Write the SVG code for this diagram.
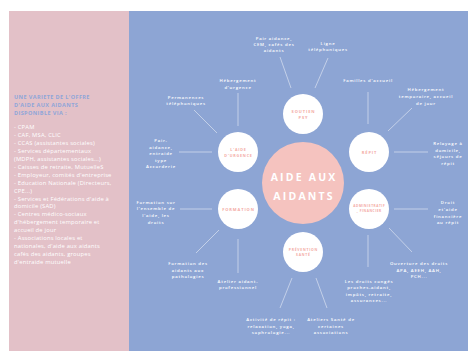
<svg xmlns="http://www.w3.org/2000/svg" width="468" height="351" viewBox="0 0 468 351">
<style>
.lab{font-family:"Open Sans","Liberation Sans",sans-serif;font-size:4.3px;font-weight:600;fill:#ffffff;letter-spacing:0.75px;text-anchor:middle}
.sat{font-family:"Open Sans","Liberation Sans",sans-serif;font-size:4px;font-weight:700;fill:#f3aaa4;letter-spacing:0.9px;text-anchor:middle}
.ttl{font-family:"Open Sans","Liberation Sans",sans-serif;font-size:5.5px;font-weight:700;fill:#8fa6d8;letter-spacing:0.4px}
.lst{font-family:"Open Sans","Liberation Sans",sans-serif;font-size:5.8px;fill:#ffffff;letter-spacing:0.2px}
.ctr{font-family:"Open Sans","Liberation Sans",sans-serif;font-size:10.5px;font-weight:700;fill:#ffffff;letter-spacing:2.2px;text-anchor:middle}
.conn line{stroke:#ffffff;stroke-width:0.6;opacity:0.8}
.node{fill:#ffffff}
</style>
<rect x="0" y="0" width="468" height="351" fill="#ffffff"/>
<rect x="9" y="11" width="120" height="340" fill="#e3c1c8"/>
<rect x="129" y="11" width="339" height="340" fill="#8da5d4"/>

<g id="panel-text">
<text class="ttl" x="14" y="99">UNE VARIETE DE L'OFFRE</text>
<text class="ttl" x="14" y="107">D'AIDE AUX AIDANTS</text>
<text class="ttl" x="14" y="115">DISPONIBLE VIA :</text>
<text class="lst" x="14" y="129">- CPAM</text>
<text class="lst" x="14" y="137">- CAF, MSA, CLIC</text>
<text class="lst" x="14" y="145">- CCAS (assistantes sociales)</text>
<text class="lst" x="14" y="153">- Services départementaux</text>
<text class="lst" x="14" y="161">(MDPH, assistantes sociales...)</text>
<text class="lst" x="14" y="169">- Caisses de retraite, MutuelleS</text>
<text class="lst" x="14" y="177">- Employeur, comités d'entreprise</text>
<text class="lst" x="14" y="185">- Education Nationale (Directeurs,</text>
<text class="lst" x="14" y="193">CPE...)</text>
<text class="lst" x="14" y="201">- Services et Fédérations d'aide à</text>
<text class="lst" x="14" y="208">domicile (SAD)</text>
<text class="lst" x="14" y="216">- Centres médico-sociaux</text>
<text class="lst" x="14" y="224">d'hébergement temporaire et</text>
<text class="lst" x="14" y="232">accueil de jour</text>
<text class="lst" x="14" y="240">- Associations locales et</text>
<text class="lst" x="14" y="248">nationales, d'aide aux aidants</text>
<text class="lst" x="14" y="256">cafés des aidants, groupes</text>
<text class="lst" x="14" y="264">d'entraide mutuelle</text>
</g>

<g class="conn" id="connectors">
<line x1="280" y1="57" x2="291" y2="88"/>
<line x1="328" y1="58" x2="315" y2="88"/>
<line x1="368" y1="92" x2="368" y2="124"/>
<line x1="412" y1="108" x2="388" y2="131"/>
<line x1="394" y1="152" x2="428" y2="152"/>
<line x1="394" y1="209" x2="428" y2="209"/>
<line x1="389" y1="228" x2="412" y2="252"/>
<line x1="368" y1="235" x2="368" y2="267"/>
<line x1="292" y1="278" x2="280" y2="308"/>
<line x1="316" y1="278" x2="327" y2="308"/>
<line x1="180" y1="209" x2="212" y2="209"/>
<line x1="219" y1="230" x2="196" y2="253"/>
<line x1="238" y1="239" x2="238" y2="273"/>
<line x1="179" y1="152" x2="212" y2="152"/>
<line x1="194" y1="110" x2="217" y2="133"/>
<line x1="238" y1="93" x2="238" y2="126"/>
</g>

<g id="center">
<circle cx="303" cy="183" r="41" fill="#f5c3bf"/>
<text class="ctr" x="304.1" y="181">AIDE AUX</text>
<text class="ctr" x="304.1" y="200">AIDANTS</text>
</g>

<g id="soutien-psy">
<circle class="node" cx="303" cy="114" r="20"/>
<text class="sat" x="303.5" y="112.5">SOUTIEN</text>
<text class="sat" x="303.5" y="118.5">PSY</text>
<text class="lab" x="274" y="39.5">Pair aidance,</text>
<text class="lab" x="274" y="45.5">CEM, cafés des</text>
<text class="lab" x="274" y="51.5">aidants</text>
<text class="lab" x="328" y="44.5">Ligne</text>
<text class="lab" x="328" y="50.5">téléphoniques</text>
</g>

<g id="repit">
<circle class="node" cx="369" cy="152" r="20"/>
<text class="sat" x="369.5" y="153.5">RÉPIT</text>
<text class="lab" x="368" y="81.5">Familles d'accueil</text>
<text class="lab" x="426" y="90.5">Hébergement</text>
<text class="lab" x="426" y="97.5">temporaire, accueil</text>
<text class="lab" x="426" y="104.5">de jour</text>
<text class="lab" x="448" y="144.5">Relayage à</text>
<text class="lab" x="448" y="151.5">domicile,</text>
<text class="lab" x="448" y="157.5">séjours de</text>
<text class="lab" x="448" y="164.5">répit</text>
</g>

<g id="administratif">
<circle class="node" cx="369" cy="209" r="20"/>
<text class="sat" x="369.3" y="207.2" style="font-size:3.2px;letter-spacing:0.55px">ADMINISTRATIF</text>
<text class="sat" x="369.3" y="212.2" style="font-size:3.2px;letter-spacing:0.55px">, FINANCIER</text>
<text class="lab" x="448" y="203.5">Droit</text>
<text class="lab" x="448" y="210.5">et'aide</text>
<text class="lab" x="448" y="217.5">financière</text>
<text class="lab" x="448" y="223.5">au répit</text>
<text class="lab" x="419" y="264.5">Ouverture des droits</text>
<text class="lab" x="419" y="271.5">APA, AEEH, AAH,</text>
<text class="lab" x="419" y="277.5">PCH...</text>
<text class="lab" x="369" y="282.5">Les droits congés</text>
<text class="lab" x="369" y="288.5">proches-aidant,</text>
<text class="lab" x="369" y="295.5">impôts, retraite,</text>
<text class="lab" x="369" y="301.5">assurances...</text>
</g>

<g id="prevention-sante">
<circle class="node" cx="303" cy="252" r="20"/>
<text class="sat" x="303.4" y="250.6" style="font-size:3.4px;letter-spacing:0.75px">PRÉVENTION</text>
<text class="sat" x="303.4" y="255.6" style="font-size:3.4px;letter-spacing:0.75px">SANTÉ</text>
<text class="lab" x="271" y="320.5">Activité de répit :</text>
<text class="lab" x="271" y="327.5">relaxation, yoga,</text>
<text class="lab" x="271" y="333.5">sophrologie...</text>
<text class="lab" x="331" y="320.5">Ateliers Santé de</text>
<text class="lab" x="331" y="327.5">certaines</text>
<text class="lab" x="331" y="333.5">associations</text>
</g>

<g id="formation">
<circle class="node" cx="238" cy="209" r="20"/>
<text class="sat" x="238.5" y="210.5">FORMATION</text>
<text class="lab" x="156" y="203.5">Formation sur</text>
<text class="lab" x="156" y="209.5">l'ensemble de</text>
<text class="lab" x="156" y="216.5">l'aide, les</text>
<text class="lab" x="156" y="223.5">droits</text>
<text class="lab" x="188" y="264.5">Formation des</text>
<text class="lab" x="188" y="271.5">aidants aux</text>
<text class="lab" x="188" y="277.5">pathologies</text>
<text class="lab" x="238" y="282.5">Atelier aidant-</text>
<text class="lab" x="238" y="288.5">professionnel</text>
</g>

<g id="aide-urgence">
<circle class="node" cx="238" cy="152" r="20"/>
<text class="sat" x="238.5" y="150.8" style="font-size:3.7px;letter-spacing:0.8px">L'AIDE</text>
<text class="sat" x="238.5" y="156.8" style="font-size:3.7px;letter-spacing:0.8px">D'URGENCE</text>
<text class="lab" x="161" y="141.5">Pair-</text>
<text class="lab" x="161" y="148.5">aidance,</text>
<text class="lab" x="161" y="154.5">entraide</text>
<text class="lab" x="161" y="161.5">type</text>
<text class="lab" x="161" y="167.5">Accorderie</text>
<text class="lab" x="186" y="98.5">Permanences</text>
<text class="lab" x="186" y="104.5">téléphoniques</text>
<text class="lab" x="238" y="81.5">Hébergement</text>
<text class="lab" x="238" y="88.5">d'urgence</text>
</g>
</svg>
